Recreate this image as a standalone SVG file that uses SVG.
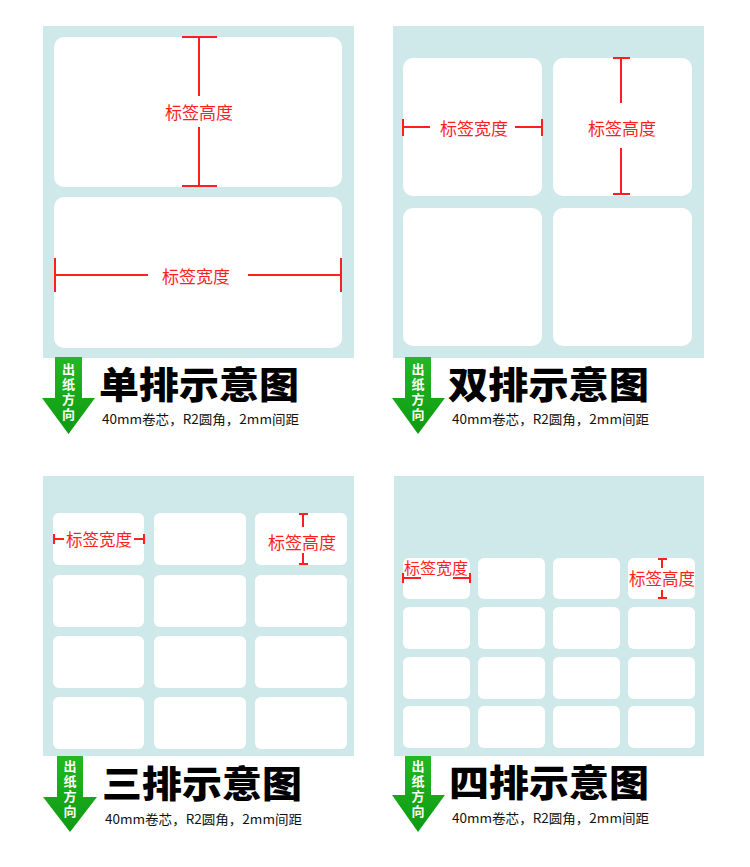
<svg xmlns="http://www.w3.org/2000/svg" width="750" height="867" viewBox="0 0 750 867">
<defs>
<style>
.bg{fill:#cfe9eb}
.lab{fill:#ffffff}
.dim{stroke:#ff1f1f;stroke-width:2;fill:none}
.dimt{fill:#ff1f1f;font-family:"Noto Sans CJK SC","Noto Sans",sans-serif;font-weight:400;text-anchor:middle;dominant-baseline:central}
.arr{fill:url(#g)}
.arrt{fill:#ffffff;font-family:"Noto Sans CJK SC",sans-serif;font-weight:700;font-size:13px;writing-mode:vertical-rl;letter-spacing:2px}
.title{fill:#000000;font-family:"Noto Sans CJK SC",sans-serif;font-weight:900;font-size:37px}
.sub{fill:#111111;font-family:"Noto Sans CJK SC",sans-serif;font-size:13px}
</style>
<linearGradient id="g" x1="0" y1="0" x2="0" y2="1">
<stop offset="0" stop-color="#22b822"/>
<stop offset="1" stop-color="#0e9a12"/>
</linearGradient>
</defs>
<rect width="750" height="867" fill="#ffffff"/>

<g id="panel1">
<rect class="bg" x="43" y="26" width="311" height="332"/>
<rect class="lab" x="54" y="37" width="288" height="150" rx="10"/>
<rect class="lab" x="54" y="197" width="288" height="151" rx="10"/>
<g id="p1-height">
<path class="dim" d="M182 37H217M199 37V96M199 127V186M182 186H217"/>
<text class="dimt" x="199" y="111" font-size="17">标签高度</text>
</g>
<g id="p1-width">
<path class="dim" d="M55 258V292M55 275H148M248 275H341M341 258V292"/>
<text class="dimt" x="196" y="275" font-size="17">标签宽度</text>
</g>
</g>

<g id="panel2">
<rect class="bg" x="393" y="26" width="311" height="332"/>
<rect class="lab" x="403" y="58" width="139" height="138" rx="10"/>
<rect class="lab" x="553" y="58" width="139" height="138" rx="10"/>
<rect class="lab" x="403" y="208" width="139" height="138" rx="10"/>
<rect class="lab" x="553" y="208" width="139" height="138" rx="10"/>
<g id="p2-width">
<path class="dim" d="M403 119V136M403 127H430M515 127H542M542 119V136"/>
<text class="dimt" x="474" y="127" font-size="17">标签宽度</text>
</g>
<g id="p2-height">
<path class="dim" d="M613 58H630M621 58V103M621 148V194M613 194H630"/>
<text class="dimt" x="622" y="127" font-size="17">标签高度</text>
</g>
</g>

<g id="panel3">
<rect class="bg" x="43" y="476" width="311" height="280"/>
<g class="lab">
<rect x="53" y="513" width="91" height="52" rx="6"/>
<rect x="154" y="513" width="92" height="52" rx="6"/>
<rect x="255" y="513" width="92" height="52" rx="6"/>
<rect x="53" y="575" width="91" height="52" rx="6"/>
<rect x="154" y="575" width="92" height="52" rx="6"/>
<rect x="255" y="575" width="92" height="52" rx="6"/>
<rect x="53" y="636" width="91" height="52" rx="6"/>
<rect x="154" y="636" width="92" height="52" rx="6"/>
<rect x="255" y="636" width="92" height="52" rx="6"/>
<rect x="53" y="697" width="91" height="52" rx="6"/>
<rect x="154" y="697" width="92" height="52" rx="6"/>
<rect x="255" y="697" width="92" height="52" rx="6"/>
</g>
<g id="p3-width">
<path class="dim" d="M54 534V544M54 539H64M134 539H144M144 534V544"/>
<text class="dimt" x="99" y="539" font-size="16.5">标签宽度</text>
</g>
<g id="p3-height">
<path class="dim" d="M299 514H308M303 514V527M303 553V564M299 564H308"/>
<text class="dimt" x="302" y="541" font-size="17">标签高度</text>
</g>
</g>

<g id="panel4">
<rect class="bg" x="394" y="476" width="310" height="280"/>
<g class="lab">
<rect x="403" y="558" width="67" height="41" rx="6"/>
<rect x="478" y="558" width="67" height="41" rx="6"/>
<rect x="553" y="558" width="67" height="41" rx="6"/>
<rect x="628" y="558" width="67" height="41" rx="6"/>
<rect x="403" y="607" width="67" height="42" rx="6"/>
<rect x="478" y="607" width="67" height="42" rx="6"/>
<rect x="553" y="607" width="67" height="42" rx="6"/>
<rect x="628" y="607" width="67" height="42" rx="6"/>
<rect x="403" y="657" width="67" height="42" rx="6"/>
<rect x="478" y="657" width="67" height="42" rx="6"/>
<rect x="553" y="657" width="67" height="42" rx="6"/>
<rect x="628" y="657" width="67" height="42" rx="6"/>
<rect x="403" y="706" width="67" height="42" rx="6"/>
<rect x="478" y="706" width="67" height="42" rx="6"/>
<rect x="553" y="706" width="67" height="42" rx="6"/>
<rect x="628" y="706" width="67" height="42" rx="6"/>
</g>
<g id="p4-width">
<path class="dim" d="M403 573V583M403 578H421M453 578H470M470 573V583"/>
<text class="dimt" x="436" y="567" font-size="16">标签宽度</text>
</g>
<g id="p4-height">
<path class="dim" d="M658 559H667M662 559V568M662 590V598M658 598H667"/>
<text class="dimt" x="662" y="578" font-size="16.5">标签高度</text>
</g>
</g>

<g id="caption1">
<path class="arr" d="M55 357H82V398H95L68.5 434L42 398H55Z"/>
<text class="arrt" x="68.5" y="363">出纸方向</text>
<text class="title" x="99" y="399" textLength="200" lengthAdjust="spacingAndGlyphs">单排示意图</text>
<text class="sub" x="102" y="424" textLength="197" lengthAdjust="spacingAndGlyphs">40mm卷芯，R2圆角，2mm间距</text>
</g>

<g id="caption2">
<path class="arr" d="M405 357H431V398H445L418 434L392 398H405Z"/>
<text class="arrt" x="418" y="363">出纸方向</text>
<text class="title" x="448" y="399" textLength="201" lengthAdjust="spacingAndGlyphs">双排示意图</text>
<text class="sub" x="452" y="424" textLength="197" lengthAdjust="spacingAndGlyphs">40mm卷芯，R2圆角，2mm间距</text>
</g>

<g id="caption3">
<path class="arr" d="M57 756H83V797H97L70 832L43 797H57Z"/>
<text class="arrt" x="70" y="760">出纸方向</text>
<text class="title" x="102" y="798" textLength="200" lengthAdjust="spacingAndGlyphs">三排示意图</text>
<text class="sub" x="105" y="824" textLength="197" lengthAdjust="spacingAndGlyphs">40mm卷芯，R2圆角，2mm间距</text>
</g>

<g id="caption4">
<path class="arr" d="M405 756H431V795H445L418 832L392 795H405Z"/>
<text class="arrt" x="418" y="760">出纸方向</text>
<text class="title" x="449" y="797" textLength="200" lengthAdjust="spacingAndGlyphs">四排示意图</text>
<text class="sub" x="452" y="823" textLength="197" lengthAdjust="spacingAndGlyphs">40mm卷芯，R2圆角，2mm间距</text>
</g>
</svg>
